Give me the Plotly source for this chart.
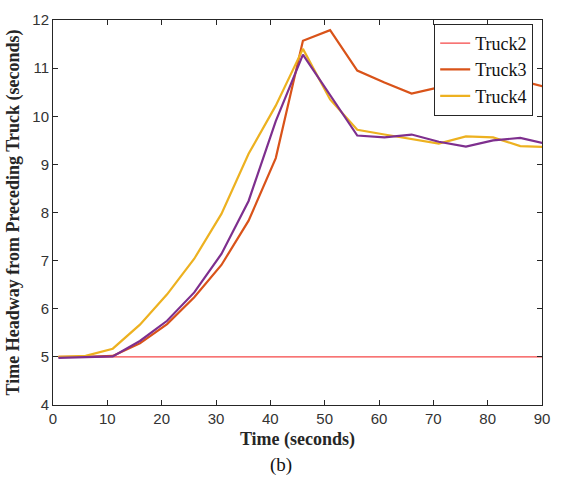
import plotly.graph_objects as go

time = [1, 6, 11, 16, 21, 26, 31, 36, 41, 46, 51, 56, 61, 66, 71, 76, 81, 86, 91]
truck2 = [5.0] * 19
truck3 = [5.0, 5.0, 5.02, 5.28, 5.68, 6.24, 6.91, 7.83, 9.13, 11.57, 11.79, 10.95,
          10.7, 10.47, 10.6, 10.72, 10.8, 10.74, 10.6]
truck4 = [5.0, 5.02, 5.17, 5.67, 6.3, 7.04, 7.97, 9.22, 10.22, 11.4, 10.35, 9.72,
          9.62, 9.52, 9.43, 9.58, 9.56, 9.38, 9.36]
truck5 = [4.98, 4.99, 5.01, 5.33, 5.75, 6.34, 7.14, 8.24, 9.9, 11.28, 10.45, 9.6,
          9.56, 9.62, 9.47, 9.37, 9.5, 9.55, 9.42]

fig = go.Figure()
fig.add_trace(go.Scatter(x=time, y=truck2, mode="lines", name="Truck2",
                         line=dict(color="rgb(245,70,70)", width=1.2)))
fig.add_trace(go.Scatter(x=time, y=truck3, mode="lines", name="Truck3",
                         line=dict(color="#D95319", width=2.2)))
fig.add_trace(go.Scatter(x=time, y=truck4, mode="lines", name="Truck4",
                         line=dict(color="#EDB120", width=2.2)))
fig.add_trace(go.Scatter(x=time, y=truck5, mode="lines", name="Truck5",
                         showlegend=False,
                         line=dict(color="#7E2F8E", width=2.2)))

axis_common = dict(showline=True, linecolor="#262626", linewidth=1, mirror="ticks",
                   ticks="inside", ticklen=5, tickcolor="#262626", showgrid=False,
                   zeroline=False,
                   tickfont=dict(family="Liberation Sans, Arial", size=15, color="#333333"))

fig.update_xaxes(range=[0, 90], tickvals=list(range(0, 91, 10)),
                 title=dict(text="<b>Time (seconds)</b>", standoff=6,
                            font=dict(family="Liberation Serif, Times New Roman", size=18, color="#262626")),
                 **axis_common)
fig.update_yaxes(range=[4, 12], tickvals=list(range(4, 13)),
                 title=dict(text="<b>Time Headway from Preceding Truck (seconds)</b>", standoff=8,
                            font=dict(family="Liberation Serif, Times New Roman", size=18, color="#262626")),
                 **axis_common)

fig.add_annotation(text="(b)", xref="paper", yref="paper", x=0.467, y=-0.157,
                   showarrow=False, yanchor="middle", xanchor="center",
                   font=dict(family="Liberation Serif, Times New Roman", size=19, color="#111111"))

fig.update_layout(
    width=561, height=485,
    margin=dict(l=53, r=11, t=12, b=80),
    plot_bgcolor="white", paper_bgcolor="white",
    legend=dict(x=0.982, y=0.99, xanchor="right", yanchor="top",
                bgcolor="white", bordercolor="#262626", borderwidth=1,
                font=dict(family="Liberation Serif, Times New Roman", size=18, color="#111111"),
                tracegroupgap=0, itemwidth=30),
)

fig.write_html("out.html")
